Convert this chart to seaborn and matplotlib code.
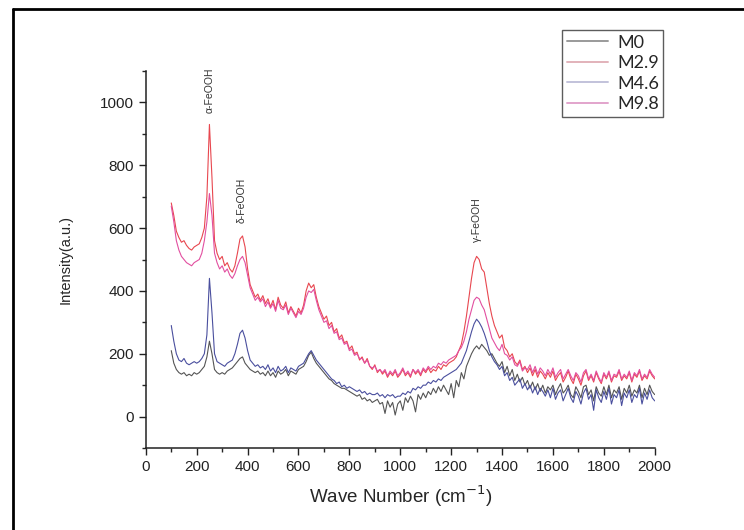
import numpy as np
import pandas as pd
import matplotlib
matplotlib.use("Agg")
import matplotlib.pyplot as plt
from matplotlib.lines import Line2D
from matplotlib.ticker import MultipleLocator
import seaborn as sns

# wave numbers, step 10 from 100 to 2000 cm-1
wave = np.arange(100, 2001, 10)

m0 = [210, 170, 150, 140, 135, 140, 130, 135, 130, 140,
      135, 140, 150, 160, 190, 240, 200, 150, 140, 135,
      140, 135, 145, 150, 155, 165, 175, 185, 190, 170,
      160, 150, 145, 140, 145, 135, 140, 130, 145, 130,
      140, 125, 145, 135, 140, 150, 130, 145, 140, 135,
      150, 155, 160, 175, 195, 205, 185, 170, 160, 150,
      140, 130, 120, 115, 105, 100, 95, 90, 90, 85,
      80, 75, 70, 65, 70, 55, 60, 50, 55, 45,
      50, 55, 40, 45, 10, 50, 30, 45, 5, 40,
      50, 20, 60, 45, 65, 50, 15, 70, 55, 75,
      60, 80, 70, 90, 75, 95, 80, 100, 85, 70,
      105, 60, 115, 95, 140, 120, 160, 180, 200, 215,
      225, 215, 230, 220, 210, 195, 200, 185, 170, 160,
      175, 140, 160, 130, 150, 115, 135, 110, 125, 100,
      115, 90, 110, 85, 105, 80, 100, 75, 95, 85,
      100, 70, 90, 105, 75, 85, 100, 70, 60, 95,
      80, 60, 95, 100, 70, 85, 50, 95, 75, 65,
      95, 70, 100, 60, 85, 75, 95, 55, 90, 75,
      100, 65, 85, 75, 100, 60, 90, 70, 100, 80,
      70]

m29 = [680, 640, 590, 570, 555, 560, 545, 535, 530, 540,
       545, 550, 570, 600, 700, 930, 760, 560, 520, 500,
       510, 480, 490, 470, 460, 480, 520, 565, 575, 540,
       470, 420, 400, 380, 390, 370, 385, 360, 375, 350,
       370, 340, 380, 355, 345, 365, 330, 350, 335, 320,
       345, 330, 355, 400, 425, 410, 420, 380, 350, 330,
       310, 320, 290, 300, 270, 280, 250, 260, 235, 240,
       215, 225, 200, 205, 180, 190, 170, 185, 160, 150,
       165, 140, 150, 135, 145, 125, 140, 130, 145, 125,
       135, 150, 130, 140, 125, 150, 135, 145, 130, 150,
       140, 155, 140, 150, 145, 160, 150, 165, 160, 170,
       175, 180, 190, 210, 230, 270, 320, 380, 440, 490,
       510, 500, 470, 460, 410, 360, 320, 290, 270, 250,
       260, 220, 210, 190, 200, 175, 165, 180, 150, 160,
       140, 155, 130, 150, 125, 145, 135, 120, 140, 125,
       145, 115, 130, 140, 110, 125, 145, 120, 105, 135,
       120, 100, 130, 145, 115, 130, 110, 140, 120, 105,
       135, 120, 140, 110, 130, 125, 145, 115, 130, 120,
       140, 110, 135, 125, 145, 115, 130, 120, 145, 130,
       120]

m46 = [290, 240, 200, 180, 175, 185, 170, 165, 170, 175,
       170, 175, 185, 200, 260, 440, 330, 200, 175, 170,
       165, 160, 170, 175, 180, 200, 230, 265, 275, 250,
       210, 180, 170, 160, 165, 155, 160, 150, 165, 145,
       155, 140, 160, 145, 150, 160, 140, 155, 150, 145,
       160, 165, 170, 185, 200, 210, 195, 180, 170, 160,
       150, 140, 130, 120, 115, 105, 110, 95, 100, 90,
       95, 90, 85, 80, 85, 75, 80, 70, 75, 70,
       70, 75, 65, 70, 60, 70, 65, 70, 60, 65,
       65, 75, 70, 80, 75, 90, 85, 95, 90, 100,
       100, 110, 105, 115, 110, 120, 115, 125, 130, 135,
       140, 145, 150, 160, 170, 190, 210, 240, 270, 295,
       310, 300, 285, 265, 240, 210, 190, 175, 165, 150,
       160, 130, 140, 115, 125, 100, 110, 120, 90, 105,
       85, 100, 75, 95, 70, 90, 80, 65, 85, 60,
       90, 55, 75, 85, 50, 70, 90, 60, 45, 80,
       65, 40, 75, 90, 55, 70, 20, 85, 60, 45,
       80, 55, 90, 40, 70, 60, 85, 35, 75, 60,
       85, 45, 70, 60, 90, 40, 75, 55, 85, 60,
       50]

m98 = [670, 620, 560, 530, 510, 500, 490, 485, 480, 490,
       495, 500, 520, 560, 620, 710, 640, 520, 490, 470,
       480, 460, 470, 450, 440, 455, 480, 500, 510, 490,
       450, 410, 390, 370, 380, 365, 375, 350, 365, 345,
       360, 335, 370, 345, 340, 355, 325, 345, 330, 315,
       335, 325, 345, 380, 400, 395, 405, 370, 340, 320,
       300, 305, 280, 290, 265, 270, 245, 250, 230, 235,
       210, 215, 195, 200, 185, 185, 170, 180, 160, 155,
       160, 145, 150, 140, 150, 130, 145, 135, 150, 130,
       140, 155, 135, 145, 130, 150, 140, 150, 135, 155,
       145, 160, 150, 160, 155, 170, 165, 175, 170, 180,
       185, 190, 195, 210, 220, 240, 270, 310, 340, 370,
       380, 375, 355, 340, 310, 280, 250, 235, 220, 210,
       230, 200, 195, 180, 190, 165, 160, 175, 145, 155,
       150, 165, 140, 160, 135, 155, 145, 130, 150, 135,
       155, 125, 140, 150, 120, 135, 150, 130, 115, 140,
       130, 110, 140, 150, 120, 135, 115, 145, 125, 110,
       140, 125, 145, 115, 135, 130, 150, 120, 135, 125,
       145, 115, 140, 130, 150, 120, 135, 125, 150, 135,
       125]

names = ["M0", "M2.9", "M4.6", "M9.8"]
line_colors = ["#555555", "#e8474f", "#4a4f9e", "#e24fa0"]
legend_colors = ["#9a9a9a", "#e2b2ba", "#c2c2da", "#e2a4cc"]

# peak labels: (text, x, y)
peaks = [("α-FeOOH", 252, 1040), ("δ-FeOOH", 377, 688), ("γ-FeOOH", 1300, 626)]

frames = []
for name, vals in zip(names, [m0, m29, m46, m98]):
    frames.append(pd.DataFrame({"wave": wave, "intensity": vals, "sample": name}))
df = pd.concat(frames, ignore_index=True)

sns.set_style("ticks")
plt.rcParams["font.family"] = ["Liberation Sans", "DejaVu Sans"]

fig = plt.figure(figsize=(7.44, 5.30), dpi=100)
ax = fig.add_axes([0.196, 0.1547, 0.684, 0.7113])

sns.lineplot(data=df, x="wave", y="intensity", hue="sample", palette=line_colors,
             estimator=None, linewidth=0.8, legend=False, ax=ax)

ax.set_xlim(0, 2000)
ax.set_ylim(-100, 1100)
ax.xaxis.set_major_locator(MultipleLocator(200))
ax.xaxis.set_minor_locator(MultipleLocator(100))
ax.yaxis.set_minor_locator(MultipleLocator(100))
ax.set_yticks([0, 200, 400, 600, 800, 1000])
ax.tick_params(which="major", direction="out", length=5, width=1, labelsize=11, colors="#222222")
ax.tick_params(which="minor", direction="out", length=3, width=1)
for s in ["left", "bottom"]:
    ax.spines[s].set_linewidth(1.1)
    ax.spines[s].set_color("#222222")
sns.despine(ax=ax)

ax.set_xlabel("Wave Number (cm$^{-1}$)", fontsize=13.5, labelpad=7)
ax.set_ylabel("Intensity(a.u.)", fontsize=10.5, labelpad=20)

for txt, px, py in peaks:
    ax.text(px, py, txt, rotation=90, ha="center", va="center", fontsize=7.5, color="#333333")

handles = [Line2D([], [], color=c, lw=1.4) for c in legend_colors]
leg = fig.legend(handles, names, loc="upper left", bbox_to_anchor=(562 / 744, 1 - 30 / 530),
                 borderaxespad=0, frameon=True, fancybox=False, edgecolor="#333333",
                 handlelength=2.3, prop={"family": "Lato", "size": 13}, borderpad=0.25,
                 labelspacing=0.25, handletextpad=0.5)
leg.get_frame().set_linewidth(1.0)

# outer frame of the screenshot
fx, fy = 13 / 744, 1 - 9 / 530
fig.add_artist(Line2D([fx, fx], [0, fy], transform=fig.transFigure, color="black", lw=2))
fig.add_artist(Line2D([fx, 1], [fy, fy], transform=fig.transFigure, color="black", lw=2))

fig.savefig("out.png", dpi=100)
